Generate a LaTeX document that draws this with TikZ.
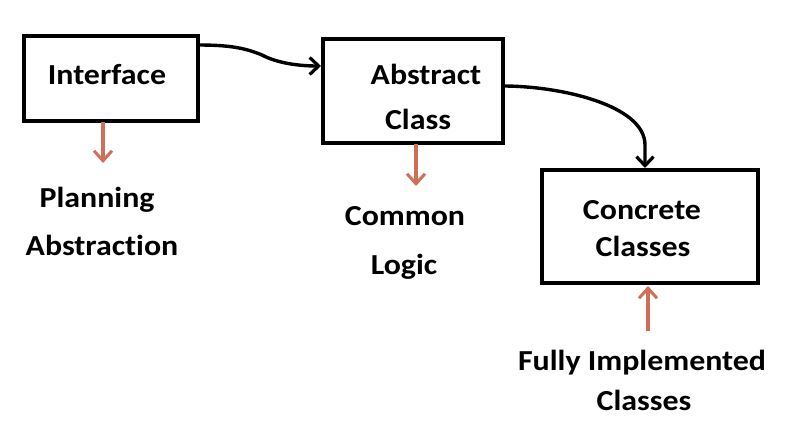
\documentclass[tikz,border=0pt]{standalone}
\usepackage{fontspec}
\setmainfont{Carlito}
\newfontfamily\lblfont[FakeStretch=1.1,Ligatures={NoCommon,NoRequired,NoContextual}]{Carlito}
\usetikzlibrary{arrows.meta}
\definecolor{salmon}{RGB}{208,110,90}
\begin{document}
\begin{tikzpicture}[x=1pt,y=-1pt,
  box/.style={draw,line width=3.4pt,inner sep=0pt},
  lbl/.style={font=\lblfont\bfseries\fontsize{29}{34}\selectfont,anchor=base,inner sep=0pt},
  blk/.style={line width=3.4pt,-{Straight Barb[length=9pt,width=17pt,line width=3.2pt]}},
  red/.style={draw=salmon,line width=3.2pt,-{Straight Barb[length=10pt,width=18pt,line width=3pt]}}]
\useasboundingbox (0,0) rectangle (802,436);
\node[box,minimum width=174pt,minimum height=85pt] (iface) at (111,78.5) {};
\node[box,minimum width=180pt,minimum height=104pt] (abs) at (413,91) {};
\node[box,minimum width=216pt,minimum height=113pt] (conc) at (650,226.5) {};
\node[lbl] (ifacetxt) at (107,84) {Interface};
\node[lbl] (abs1) at (426,84) {Abstract};
\node[lbl] (abs2) at (418,129) {Class};
\node[lbl] (conc1) at (642,219) {Concrete};
\node[lbl] (conc2) at (643,256) {Classes};
\node[lbl] (plan1) at (97,207) {Planning};
\node[lbl] (plan2) at (102,255) {Abstraction};
\node[lbl] (com1) at (405,225) {Common};
\node[lbl] (com2) at (404,274) {Logic};
\node[lbl] (full1) at (642,370) {Fully Implemented};
\node[lbl] (full2) at (644,410) {Classes};
\coordinate (a1) at (198,45);
\coordinate (a2) at (321,66);
\draw[blk] (a1) .. controls (230,45) and (245,48) .. (262,55) .. controls (275,62) and (295,66) .. (a2);
\coordinate (b1) at (503,86);
\coordinate (b2) at (645,168);
\draw[blk] (b1) .. controls (560,86) and (645,105) .. (645,145) -- (b2);
\coordinate (r1s) at (103,122);
\coordinate (r1e) at (103,163);
\draw[red] (r1s) -- (r1e);
\coordinate (r2s) at (416,144);
\coordinate (r2e) at (416,186);
\draw[red] (r2s) -- (r2e);
\coordinate (r3s) at (648,331);
\coordinate (r3e) at (648,286);
\draw[red] (r3s) -- (r3e);
\end{tikzpicture}
\end{document}
